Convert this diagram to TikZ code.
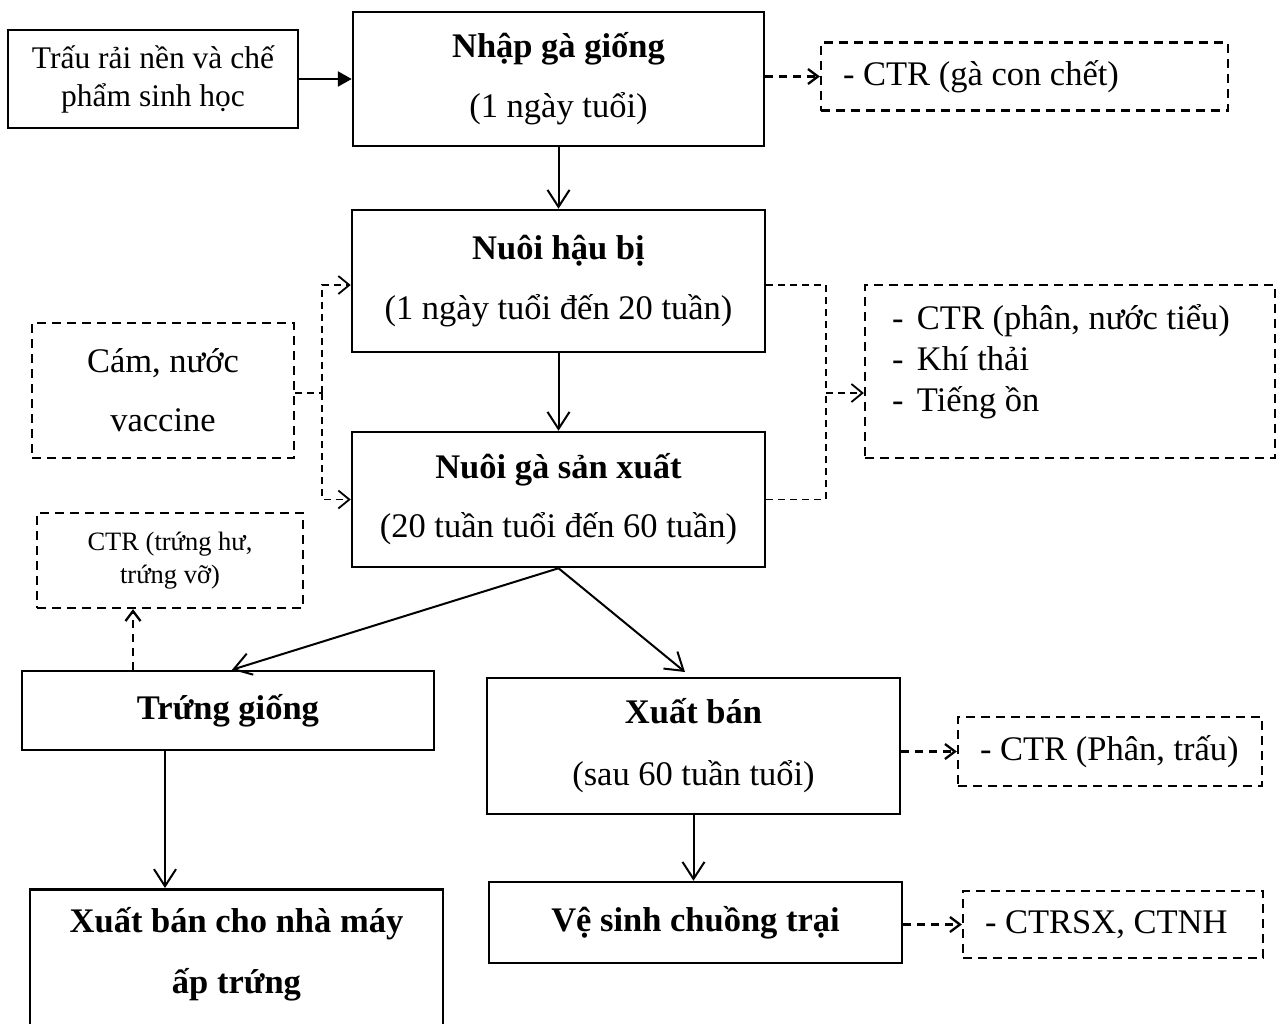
\documentclass[tikz,border=0pt]{standalone}
\usepackage{fontspec}
\setmainfont{Liberation Serif}
\usetikzlibrary{arrows.meta}

\begin{document}
\begin{tikzpicture}[x=1pt,y=-1pt,
  txt/.style={font=\fontsize{34.5}{41}\selectfont},
  solidbox/.style={draw, line width=2.5pt, inner sep=0pt, align=center, txt},
  dashbox/.style={draw, line width=2.3pt, dash pattern=on 9pt off 6pt, inner sep=0pt, align=center, txt},
  arr/.style={line width=2pt, -{Straight Barb[length=17pt,width=22pt,line width=2pt]}},
  darr/.style={line width=2.3pt, dash pattern=on 8pt off 6pt, -{Straight Barb[length=10pt,width=15pt,line width=2.3pt]}},
  tline/.style={line width=1.5pt, dash pattern=on 7pt off 5pt},
  tarr/.style={tline, -{Straight Barb[length=11pt,width=18pt,line width=1.8pt]}},
]
\useasboundingbox[fill=white] (0,0) rectangle (1280,1023);

% process steps
\node[solidbox, minimum width=290, minimum height=98, font=\fontsize{31.5}{38}\selectfont]
  (trau) at (153,79) {Trấu rải nền và chế\\phẩm sinh học};
\node[solidbox, minimum width=411, minimum height=134]
  (nhap) at (558.5,79) {\textbf{Nhập gà giống}\\[19pt](1 ngày tuổi)};
\node[solidbox, minimum width=413, minimum height=142]
  (haubi) at (558.5,281) {\textbf{Nuôi hậu bị}\\[19pt](1 ngày tuổi đến 20 tuần)};
\node[solidbox, minimum width=413, minimum height=135]
  (sanxuat) at (558.5,499.5) {\textbf{Nuôi gà sản xuất}\\[18pt](20 tuần tuổi đến 60 tuần)};
\node[solidbox, minimum width=412, minimum height=79]
  (trung) at (228,710.5) {\textbf{Trứng giống}};
\node[solidbox, minimum width=413, minimum height=136]
  (xuatban) at (693.5,746) {\textbf{Xuất bán}\\[21pt](sau 60 tuần tuổi)};
\node[solidbox, minimum width=413, minimum height=81]
  (vesinh) at (695.5,922.5) {\textbf{Vệ sinh chuồng trại}};
\node[solidbox, minimum width=413, minimum height=160, anchor=north]
  (nhamay) at (236.5,888) {};
\node[txt, align=center, inner sep=0pt]
  (nhamaytxt) at (236.5,954) {\textbf{Xuất bán cho nhà máy}\\[20pt]\textbf{ấp trứng}};

% inputs and wastes
\node[dashbox, minimum width=262, minimum height=135]
  (cam) at (163,390.5) {Cám, nước\\[18pt]vaccine};
\node[dashbox, minimum width=407, minimum height=68]
  (ctr1) at (1024.5,76.5) {\makebox[363pt][l]{- CTR (gà con chết)}};
\node[dashbox, minimum width=410, minimum height=173]
  (ctr2) at (1070,371.5)
  {\makebox[356pt][l]{\makebox[25pt][l]{-}CTR (phân, nước tiểu)}\\
   \makebox[356pt][l]{\makebox[25pt][l]{-}Khí thải}\\
   \makebox[356pt][l]{\makebox[25pt][l]{-}Tiếng ồn}\\[-14pt]~};
\node[dashbox, minimum width=266, minimum height=95, font=\fontsize{26.5}{33}\selectfont]
  (ctrtrung) at (170,560.5) {CTR (trứng hư,\\trứng vỡ)};
\node[dashbox, minimum width=304, minimum height=69]
  (ctr3) at (1110,751.5) {\makebox[260pt][l]{- CTR (Phân, trấu)}};
\node[dashbox, minimum width=300, minimum height=67]
  (ctr4) at (1113,924.5) {\makebox[256pt][l]{- CTRSX, CTNH}};

% helper points
\coordinate (jl) at (322,393);
\coordinate (jr) at (826,393);
\coordinate (xa) at (133,0);
\coordinate (xb) at (165,0);
\coordinate (xd) at (685,672);

% main flow
\draw[line width=2.5pt, -{Triangle[length=14pt,width=15pt]}] (trau.east) -- (nhap.west |- trau.east);
\draw[arr] (nhap.south) -- (haubi.north);
\draw[arr] (haubi.south) -- (sanxuat.north);
\draw[arr] (sanxuat.south) -- ([xshift=4pt]trung.north);
\draw[arr] (sanxuat.south) -- (xd);
\draw[arr] (trung.south -| xb) -- (nhamay.north -| xb);
\draw[arr] (xuatban.south) -- (vesinh.north -| xuatban.south);

% feed and vaccine supply
\draw[tline] (cam.east |- jl) -- (jl);
\draw[tarr] (jl) |- ([yshift=-4pt]haubi.west);
\draw[tarr] (jl) |- (sanxuat.west);

% emissions
\draw[tline] ([yshift=-4pt]haubi.east) -| (jr);
\draw[tline] (sanxuat.east) -| (jr);
\draw[tarr] (jr) -- (ctr2.west |- jr);
\draw[darr] (nhap.east |- ctr1.west) -- (ctr1.west);
\draw[darr] (trung.north -| xa) -- (ctrtrung.south -| xa);
\draw[darr] (xuatban.east |- ctr3.west) -- (ctr3.west);
\draw[darr] (vesinh.east |- ctr4.west) -- (ctr4.west);
\end{tikzpicture}
\end{document}
